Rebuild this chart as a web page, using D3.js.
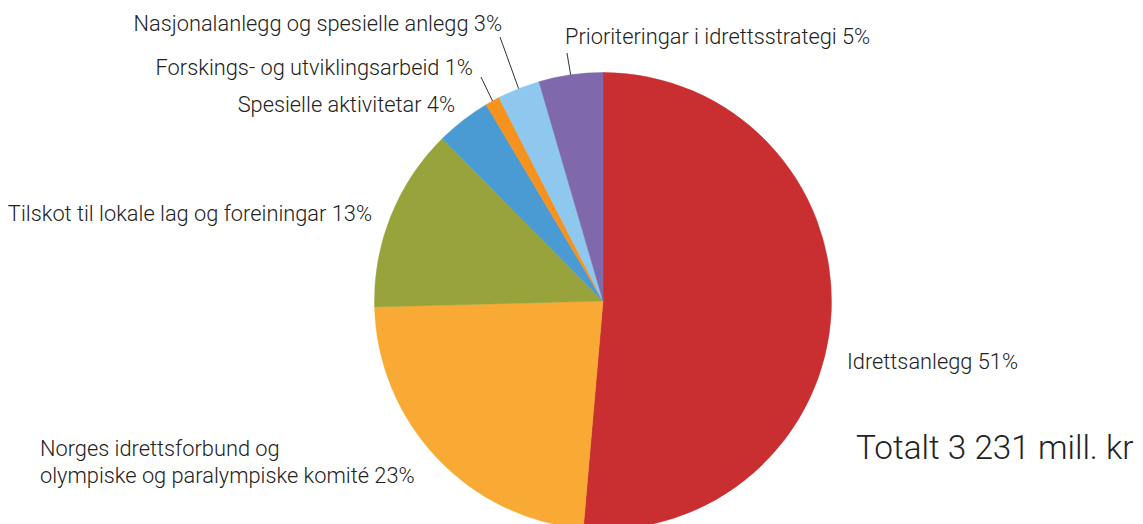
<!DOCTYPE html>
<html>
<head>
<meta charset="utf-8">
<script src="https://cdn.jsdelivr.net/npm/d3@7"></script>
<style>
  body { margin: 0; background: #fff; }
  svg { display: block; }
  .lbl { font-family: Roboto, sans-serif; font-size: 21.8px; font-weight: 300; fill: #222; }
</style>
</head>
<body>
<div class="PieChart"></div>
<script>
// values in mill. kr (sum 3 231)
const categories = [
    "Idrettsanlegg",
    "Norges idrettsforbund og olympiske og paralympiske komité",
    "Tilskot til lokale lag og foreiningar",
    "Spesielle aktivitetar",
    "Forskings- og utviklingsarbeid",
    "Nasjonalanlegg og spesielle anlegg",
    "Prioriteringar i idrettsstrategi"
];
const values = [1660, 750, 420, 125, 33, 97, 146];
const percentLabels = ["51%", "23%", "13%", "4%", "1%", "3%", "5%"];
const labelLines = [
    ["Idrettsanlegg 51%"],
    ["Norges idrettsforbund og", "olympiske og paralympiske komité 23%"],
    ["Tilskot til lokale lag og foreiningar 13%"],
    ["Spesielle aktivitetar 4%"],
    ["Forskings- og utviklingsarbeid 1%"],
    ["Nasjonalanlegg og spesielle anlegg 3%"],
    ["Prioriteringar i idrettsstrategi 5%"]
];
const totalText = "Totalt 3 231 mill. kr";

// colours and label layout
const colors = ["#c92f31", "#f9aa35", "#98a43b", "#4a9ad3", "#f6921e", "#8ec8ee", "#8068ad"];
// [x, y of first baseline, anchor, leader end x, leader end y]
const labelPos = [
    [847, 369, "start", null, null],
    [40, 456, "start", null, null],
    [372, 221, "end", null, null],
    [455, 112, "end", null, null],
    [473, 75, "end", 481, 77],
    [502, 31, "end", 500, 37],
    [565, 44, "start", 567, 53]
];

let width = 1143, height = 524;
let cx = 603, cy = 301, radius = 228.5;

let svg = d3.select(".PieChart")
    .append("svg")
    .attr("width", width)
    .attr("height", height);

let pie = d3.pie().sort(null).value(d => d);
let arcs = pie(values);

let arc = d3.arc().innerRadius(0).outerRadius(radius);
let edge = d3.arc().innerRadius(radius).outerRadius(radius);

let g = svg.append("g")
    .attr("transform", "translate(" + cx + "," + cy + ")");

g.selectAll("path")
    .data(arcs)
    .enter()
    .append("path")
    .attr("d", arc)
    .attr("fill", (d, i) => colors[i])
    .attr("stroke", (d, i) => colors[i])
    .attr("stroke-width", 0.5);

// leader lines from the slice edge to the label
g.selectAll(".leader")
    .data(arcs.filter((d, i) => labelPos[i][3] != null))
    .enter()
    .append("line")
    .attr("class", "leader")
    .attr("x1", d => edge.centroid(d)[0])
    .attr("y1", d => edge.centroid(d)[1])
    .attr("x2", d => labelPos[d.index][3] - cx)
    .attr("y2", d => labelPos[d.index][4] - cy)
    .attr("stroke", "#333")
    .attr("stroke-width", 1);

let labels = svg.selectAll(".lbl")
    .data(categories)
    .enter()
    .append("text")
    .attr("class", "lbl")
    .attr("x", (d, i) => labelPos[i][0])
    .attr("y", (d, i) => labelPos[i][1])
    .style("text-anchor", (d, i) => labelPos[i][2]);

labels.each(function(d, i) {
    let t = d3.select(this);
    labelLines[i].forEach(function(line, j) {
        t.append("tspan")
            .attr("x", labelPos[i][0])
            .attr("dy", j == 0 ? 0 : 27)
            .text(line);
    });
});

svg.append("text")
    .attr("x", 856)
    .attr("y", 459)
    .style("font-family", "Roboto, sans-serif")
    .style("font-weight", 300)
    .style("font-size", "33.3px")
    .style("fill", "#222")
    .text(totalText);
</script>
</body>
</html>
